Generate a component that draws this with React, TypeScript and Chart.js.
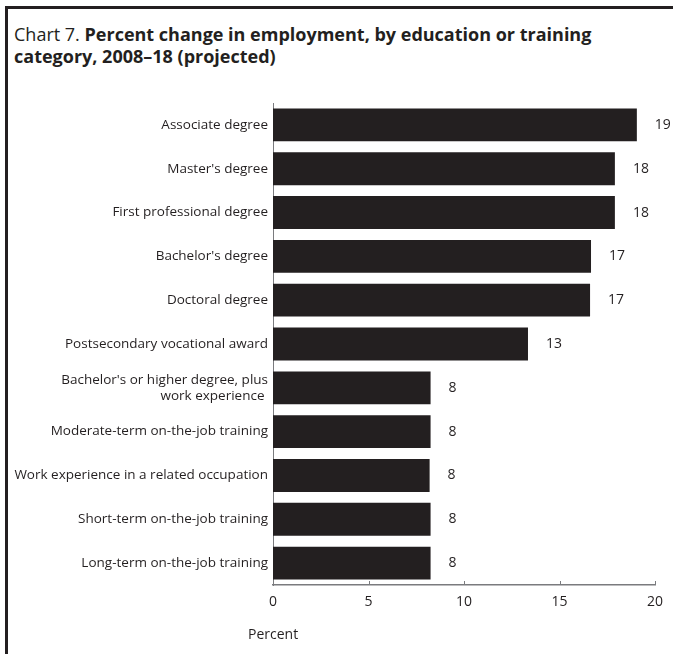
import React, { useEffect, useRef } from "react";
import { Chart, registerables } from "chart.js";

Chart.register(...registerables);

const categories: (string | string[])[] = [
  "Associate degree",
  "Master's degree",
  "First professional degree",
  "Bachelor's degree",
  "Doctoral degree",
  "Postsecondary vocational award",
  ["Bachelor's or higher degree, plus", "work experience "],
  "Moderate-term on-the-job training",
  "Work experience in a related occupation",
  "Short-term on-the-job training",
  "Long-term on-the-job training",
];

const percentChange: number[] = [19.05, 17.9, 17.9, 16.65, 16.6, 13.35, 8.25, 8.25, 8.2, 8.25, 8.25];
const valueLabels: string[] = ["19", "18", "18", "17", "17", "13", "8", "8", "8", "8", "8"];
const xTicks: number[] = [0, 5, 10, 15, 20];

const FONT = "'Open Sans', 'Noto Sans', sans-serif";
const INK = "#231f20";
const AXIS = "#7a7b7e";

export default function App() {
  const ref = useRef<HTMLCanvasElement | null>(null);

  useEffect(() => {
    if (!ref.current) return;
    const valuePlugin = {
      id: "valueLabels",
      afterDatasetsDraw(chart: any) {
        const ctx = chart.ctx;
        const meta = chart.getDatasetMeta(0);
        ctx.save();
        ctx.fillStyle = INK;
        ctx.font = `14px ${FONT}`;
        ctx.textAlign = "left";
        ctx.textBaseline = "middle";
        meta.data.forEach((bar: any, i: number) => {
          ctx.fillText(valueLabels[i], bar.x + 18, bar.y);
        });
        ctx.restore();
      },
    };
    const tickPlugin = {
      id: "upTicks",
      afterDraw(chart: any) {
        const ctx = chart.ctx;
        const xs = chart.scales.x;
        const bottom = chart.chartArea.bottom;
        ctx.save();
        ctx.strokeStyle = AXIS;
        ctx.lineWidth = 1;
        xTicks.forEach((v) => {
          const px = Math.round(xs.getPixelForValue(v)) + 0.5;
          ctx.beginPath();
          ctx.moveTo(px, bottom - 4);
          ctx.lineTo(px, bottom);
          ctx.stroke();
        });
        ctx.restore();
      },
    };
    const chart = new Chart(ref.current, {
      type: "bar",
      data: {
        labels: categories,
        datasets: [
          {
            data: percentChange,
            backgroundColor: INK,
            barPercentage: 0.75,
            categoryPercentage: 1,
          },
        ],
      },
      options: {
        indexAxis: "y",
        animation: false,
        responsive: false,
        maintainAspectRatio: false,
        layout: { padding: { left: 0, right: 18, top: 103, bottom: 29 } },
        plugins: { legend: { display: false }, tooltip: { enabled: false } },
        scales: {
          x: {
            min: 0,
            max: 20,
            afterFit(scale: any) {
              scale.height = 40;
            },
            afterBuildTicks(scale: any) {
              scale.ticks = xTicks.map((v) => ({ value: v }));
            },
            grid: { display: false, drawTicks: false },
            border: { display: true, color: AXIS, width: 1.5 },
            ticks: { color: INK, font: { family: FONT, size: 14 }, padding: 9 },
          },
          y: {
            afterFit(scale: any) {
              scale.width = 273;
            },
            grid: { display: false, drawTicks: false },
            border: { display: true, color: AXIS, width: 1 },
            ticks: { color: INK, font: { family: FONT, size: 13.5 }, padding: 5, autoSkip: false },
          },
        },
      },
      plugins: [valuePlugin, tickPlugin],
    });
    return () => chart.destroy();
  }, []);

  return (
    <div style={{ position: "absolute", left: 0, top: 0, width: 673, height: 654, background: "#fff", overflow: "hidden" }}>
      <div style={{ position: "absolute", left: 5, top: 6, width: 668, height: 648, borderTop: `3px solid ${INK}`, borderLeft: `3px solid ${INK}` }} />
      <div
        style={{
          position: "absolute",
          left: 14,
          top: 23,
          width: 640,
          fontFamily: FONT,
          fontSize: 18,
          lineHeight: "22px",
          color: INK,
        }}
      >
        <span>Chart 7. </span>
        <b>Percent change in employment, by education or training</b>
        <br />
        <b>category, 2008–18 (projected)</b>
      </div>
      <canvas ref={ref} width={673} height={654} style={{ position: "absolute", left: 0, top: 0 }} />
      <div
        style={{
          position: "absolute",
          left: 248,
          top: 624,
          fontFamily: FONT,
          fontSize: 14,
          lineHeight: "20px",
          color: INK,
        }}
      >
        Percent
      </div>
    </div>
  );
}
